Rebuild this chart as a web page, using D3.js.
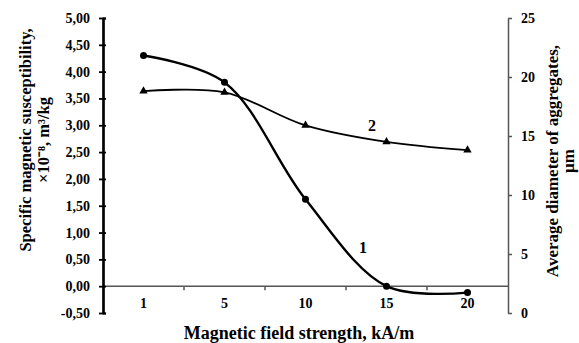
<!DOCTYPE html>
<html>
<head>
<meta charset="utf-8">
<script src="https://cdn.jsdelivr.net/npm/d3@7"></script>
<style>
  body { margin: 0; background: #fff; }
  text { font-family: "Liberation Serif", "Times New Roman", serif; font-weight: bold; fill: #000; }
</style>
</head>
<body>
<svg width="579" height="343"></svg>
<script>
// field strength categories, kA/m
var fields = ['1', '5', '10', '15', '20'];
// curve 1 - specific magnetic susceptibility (left axis)
var susceptibility = [4.30, 3.80, 1.62, 0.00, -0.12];
// curve 2 - average diameter of aggregates (right axis)
var diameter = [18.8, 18.7, 15.9, 14.5, 13.8];
var leftTicks = [-0.5, 0, 0.5, 1, 1.5, 2, 2.5, 3, 3.5, 4, 4.5, 5];
var rightTicks = [0, 5, 10, 15, 20, 25];

var svg = d3.select('svg');

var x0 = 103, x1 = 508;
var yTop = 18, yBot = 313;

var x = d3.scaleBand().domain(fields).range([x0, x1]);
var yL = d3.scaleLinear().domain([-0.5, 5]).range([yBot, yTop]);
var yR = d3.scaleLinear().domain([0, 25]).range([yBot, yTop]);

function cx(d) { return x(d) + x.bandwidth() / 2; }
var comma = function (v) { return d3.format('.2f')(v).replace('.', ',').replace('−', '-'); };

// zero line with category separators
var zero = yL(0);
svg.append('line')
    .attr('x1', x0).attr('x2', x1)
    .attr('y1', zero).attr('y2', zero)
    .style('stroke', '#555').style('stroke-width', 1.5);

svg.append('g')
    .selectAll('line')
    .data(fields.slice(1))
    .enter().append('line')
    .attr('x1', function (d) { return x(d); })
    .attr('x2', function (d) { return x(d); })
    .attr('y1', zero).attr('y2', zero + 4)
    .style('stroke', '#555').style('stroke-width', 1.5);

// category labels
var xAxis = svg.append('g')
    .attr('transform', 'translate(0,' + zero + ')')
    .call(d3.axisBottom(x).tickSize(0).tickPadding(12));
xAxis.select('.domain').remove();
xAxis.selectAll('text').style('font-size', '14px');
xAxis.attr('font-family', null);

// left axis
var left = svg.append('g').attr('transform', 'translate(' + x0 + ',0)');
left.call(d3.axisLeft(yL).tickValues(leftTicks).tickSize(4).tickSizeOuter(0).tickPadding(9).tickFormat(comma));
left.append('g').call(d3.axisRight(yL).tickValues(leftTicks).tickSize(3).tickFormat(''));
left.selectAll('.domain').style('stroke', '#000').style('stroke-width', 2.2);
left.selectAll('line').style('stroke', '#000').style('stroke-width', 1.8);
left.selectAll('text').style('font-size', '14px');
left.attr('font-family', null);

// right axis
var right = svg.append('g').attr('transform', 'translate(' + x1 + ',0)');
right.call(d3.axisRight(yR).tickValues(rightTicks).tickSize(4).tickSizeOuter(0).tickPadding(9));
right.selectAll('.domain').style('stroke', '#555').style('stroke-width', 1.5);
right.selectAll('line').style('stroke', '#555').style('stroke-width', 1.5);
right.selectAll('text').style('font-size', '14px');
right.attr('font-family', null);

// curves
var line1 = d3.line()
    .x(function (d, i) { return cx(fields[i]); })
    .y(function (d) { return yL(d); })
    .curve(d3.curveCatmullRom.alpha(0.5));
var line2 = d3.line()
    .x(function (d, i) { return cx(fields[i]); })
    .y(function (d) { return yR(d); })
    .curve(d3.curveCatmullRom.alpha(0.5));

svg.append('path').datum(susceptibility)
    .attr('d', line1)
    .style('fill', 'none').style('stroke', '#000').style('stroke-width', 2.4);
svg.append('path').datum(diameter)
    .attr('d', line2)
    .style('fill', 'none').style('stroke', '#000').style('stroke-width', 1.8);

svg.append('g').selectAll('circle')
    .data(susceptibility)
    .enter().append('circle')
    .attr('cx', function (d, i) { return cx(fields[i]); })
    .attr('cy', function (d) { return yL(d); })
    .attr('r', 3.5)
    .style('fill', '#000');

var tri = d3.symbol().type(d3.symbolTriangle).size(30);
svg.append('g').selectAll('path')
    .data(diameter)
    .enter().append('path')
    .attr('d', tri)
    .attr('transform', function (d, i) { return 'translate(' + cx(fields[i]) + ',' + yR(d) + ')'; })
    .style('fill', '#000');

// curve numbers
svg.append('text').attr('x', 363).attr('y', 253)
    .attr('text-anchor', 'middle').style('font-size', '16px').text('1');
svg.append('text').attr('x', 372).attr('y', 131)
    .attr('text-anchor', 'middle').style('font-size', '16px').text('2');

// axis titles
svg.append('text')
    .attr('x', 299).attr('y', 339)
    .attr('text-anchor', 'middle').style('font-size', '18px')
    .text('Magnetic field strength, kA/m');

var lt = svg.append('text')
    .attr('transform', 'translate(31,140) rotate(-90)')
    .attr('text-anchor', 'middle').style('font-size', '16.5px');
lt.append('tspan').attr('x', 0).attr('y', 0).text('Specific magnetic susceptibility,');
lt.append('tspan').attr('x', 0).attr('y', 18).text('×10⁻⁸, m³/kg');

var rt = svg.append('text')
    .attr('transform', 'translate(558,161) rotate(-90)')
    .attr('text-anchor', 'middle').style('font-size', '17px');
rt.append('tspan').attr('x', 0).attr('y', 0).text('Average diameter of aggregates,');
rt.append('tspan').attr('x', 0).attr('y', 16).text('μm');
</script>
</body>
</html>
